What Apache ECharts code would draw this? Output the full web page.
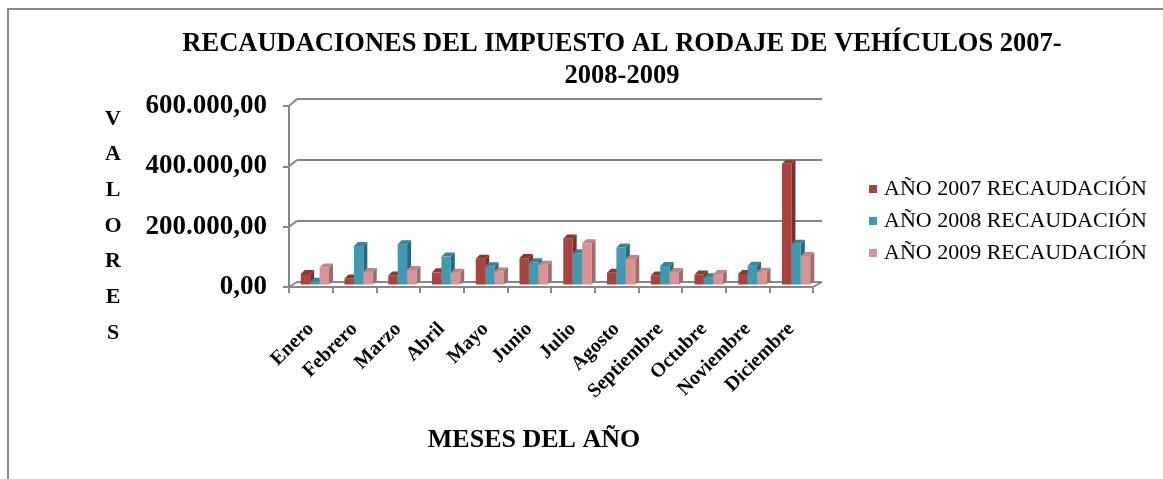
<!DOCTYPE html>
<html><head><meta charset="utf-8">
<script src="https://cdn.jsdelivr.net/npm/echarts@6/dist/echarts.min.js"></script>
<style>html,body{margin:0;padding:0;background:#fff}#c{width:1163px;height:479px}</style>
</head><body><div id="c"></div>
<script>
const months = ['Enero','Febrero','Marzo','Abril','Mayo','Junio','Julio','Agosto','Septiembre','Octubre','Noviembre','Diciembre'];
const y2007 = [35000, 20000, 30000, 40000, 85000, 87000, 152000, 39000, 30000, 33000, 35000, 398000];
const y2008 = [9000, 127000, 133000, 92000, 60000, 73000, 103000, 122000, 61000, 24000, 62000, 134000];
const y2009 = [56000, 41000, 48000, 39000, 43000, 65000, 136000, 84000, 41000, 35000, 42000, 94000];
const seriesNames = ['AÑO 2007 RECAUDACIÓN','AÑO 2008 RECAUDACIÓN','AÑO 2009 RECAUDACIÓN'];
const yMin = 0, yMax = 600000, yStep = 200000;

const FONT = '"Liberation Serif","Times New Roman",serif';
const GRAY = '#878787';
const colors = [
  {front:'#A9433F', side:'#73302D', top:'#8A3835'},
  {front:'#4199B1', side:'#2B6878', top:'#3A8396'},
  {front:'#D69594', side:'#9E6C6B', top:'#C08584'}
];

function fmt(v){
  const s = Math.round(v).toString().replace(/\B(?=(\d{3})+(?!\d))/g,'.');
  return s + ',00';
}

function renderer(k){
  const c = colors[k];
  return function(params, api){
    const i = api.value(0), v = api.value(1);
    const b = api.coord([i, 0]);
    const t = api.coord([i, v]);
    const bw = api.size([1, 0])[0];
    const w = bw * 0.215;
    const x0 = b[0] - 1.5 * w + k * w;
    const d = 4;
    return {type:'group', children:[
      {type:'polygon', shape:{points:[[x0+w,t[1]],[x0+w+d,t[1]-d],[x0+w+d,b[1]-d],[x0+w,b[1]]]}, style:{fill:c.side}},
      {type:'polygon', shape:{points:[[x0,t[1]],[x0+d,t[1]-d],[x0+w+d,t[1]-d],[x0+w,t[1]]]}, style:{fill:c.top}},
      {type:'rect', shape:{x:x0, y:t[1], width:w, height:b[1]-t[1]}, style:{fill:c.front}}
    ]};
  };
}

const all = [y2007, y2008, y2009];
const chart = echarts.init(document.getElementById('c'), null, {renderer:'canvas'});
const option = {
  backgroundColor:'#fff',
  animation:false,
  title:[
    {text:'RECAUDACIONES DEL IMPUESTO AL RODAJE DE VEHÍCULOS 2007-\n2008-2009', left:617, textAlign:'center', top:23,
     textStyle:{fontFamily:FONT, fontWeight:'bold', fontSize:26.5, lineHeight:32, color:'#000'}},
    {text:'V\nA\nL\nO\nR\nE\nS', left:108, textAlign:'center', top:96,
     textStyle:{fontFamily:FONT, fontWeight:'bold', fontSize:22, lineHeight:35.7, color:'#000'}},
    {text:'MESES DEL AÑO', left:529, textAlign:'center', top:422,
     textStyle:{fontFamily:FONT, fontWeight:'bold', fontSize:26, color:'#000'}}
  ],
  legend:{
    orient:'vertical', left:864, top:173, itemWidth:8, itemHeight:8, itemGap:10, icon:'rect',
    textStyle:{fontFamily:FONT, fontSize:22, color:'#000', padding:[0,0,0,2]},
    data:seriesNames
  },
  grid:[
    {left:289, right:350, top:106, bottom:192},
    {left:297, right:341, top:99, bottom:197},
    {left:293, right:345, top:102.5, bottom:194.5}
  ],
  xAxis:[
    {type:'category', gridIndex:0, data:months,
     axisLine:{lineStyle:{color:GRAY, width:2}},
     axisTick:{show:true, length:6, lineStyle:{color:GRAY, width:2}},
     axisLabel:{rotate:45, margin:39, fontFamily:FONT, fontWeight:'bold', fontSize:20, color:'#000', interval:0}},
    {type:'category', gridIndex:1, data:months, show:false},
    {type:'category', gridIndex:2, data:months, show:false}
  ],
  yAxis:[
    {type:'value', gridIndex:0, min:yMin, max:yMax, interval:yStep,
     axisLine:{show:true, lineStyle:{color:GRAY, width:2}},
     axisTick:{show:true, length:6, lineStyle:{color:GRAY, width:2}},
     splitLine:{show:false},
     axisLabel:{margin:22, formatter:fmt, fontFamily:FONT, fontWeight:'bold', fontSize:27, color:'#000'}},
    {type:'value', gridIndex:1, min:yMin, max:yMax, interval:yStep,
     axisLine:{show:false}, axisTick:{show:false}, axisLabel:{show:false},
     splitLine:{show:true, lineStyle:{color:GRAY, width:2}}},
    {type:'value', gridIndex:2, min:yMin, max:yMax, interval:yStep, show:false, splitLine:{show:false}}
  ],
  series: all.map((arr, k) => ({
    type:'custom', name:seriesNames[k], xAxisIndex:2, yAxisIndex:2,
    itemStyle:{color:colors[k].front},
    renderItem:renderer(k),
    encode:{x:0, y:1},
    data:arr.map((v, i) => [i, v])
  }))
};
chart.setOption(option);

// 3D frame decoration: diagonal connectors between the front axis and the back wall
const g = [];
for (let v = yMin; v <= yMax; v += yStep) {
  const fy = chart.convertToPixel({yAxisIndex:0}, v);
  const by = chart.convertToPixel({yAxisIndex:1}, v);
  g.push({type:'line', shape:{x1:289, y1:fy, x2:297, y2:by}, style:{stroke:GRAY, lineWidth:2}, silent:true});
}
const fy0 = chart.convertToPixel({yAxisIndex:0}, 0);
const by0 = chart.convertToPixel({yAxisIndex:1}, 0);
g.push({type:'line', shape:{x1:813, y1:fy0, x2:822, y2:by0}, style:{stroke:GRAY, lineWidth:2}, silent:true});
g.push({type:'rect', shape:{x:8, y:9, width:1175, height:495}, style:{fill:'none', stroke:'#8a8a8a', lineWidth:2}, silent:true});
chart.setOption({graphic:g});
</script></body></html>
